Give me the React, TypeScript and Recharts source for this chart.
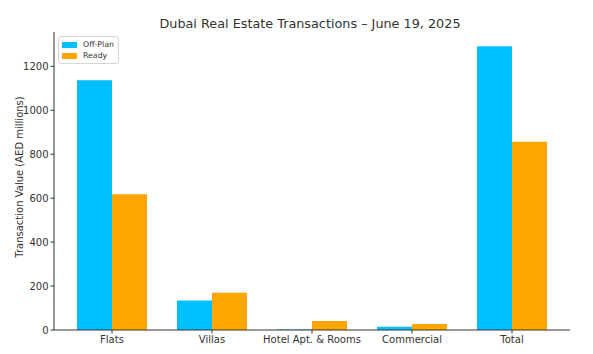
import React from 'react';
import { BarChart, Bar, XAxis, YAxis } from 'recharts';

const categories = ['Flats', 'Villas', 'Hotel Apt. & Rooms', 'Commercial', 'Total'];
const offPlan = [1136, 134, 2, 15, 1291];
const ready = [618, 170, 41, 27, 857];
const yTicks = [0, 200, 400, 600, 800, 1000, 1200];

const data = categories.map((c, i) => ({ name: c, offPlan: offPlan[i], ready: ready[i] }));

const FONT = 'DejaVu Sans, sans-serif';
const BLUE = '#00BFFF';
const ORANGE = '#FFA500';

const LegendBox = () => (
  <div
    style={{
      position: 'absolute',
      left: 58,
      top: 36,
      border: '1px solid #d6d6d6',
      borderRadius: 3,
      background: 'white',
      padding: '2px 4px 2px 3px',
      fontFamily: FONT,
      fontSize: 7.8,
      color: '#333',
      lineHeight: '11px',
    }}
  >
    {[
      ['Off-Plan', BLUE],
      ['Ready', ORANGE],
    ].map(([label, color]) => (
      <div key={label} style={{ display: 'flex', alignItems: 'center' }}>
        <span style={{ display: 'inline-block', width: 15, height: 6, background: color, marginRight: 6 }} />
        {label}
      </div>
    ))}
  </div>
);

export default function App() {
  return (
    <div style={{ position: 'absolute', left: 0, top: 0, width: 593, height: 354, background: 'white' }}>
      <BarChart
        width={593}
        height={354}
        data={data}
        margin={{ top: 32, right: 23, left: 0, bottom: 0 }}
        barGap={0}
        barSize={35}
      >
        <XAxis
          dataKey="name"
          height={24}
          padding={{ left: 8, right: 8 }}
          tick={{ fontFamily: FONT, fontSize: 10, fill: '#333' }}
          tickSize={3.5}
          tickMargin={2}
          axisLine={{ stroke: '#333', strokeWidth: 1 }}
          tickLine={{ stroke: '#333' }}
          interval={0}
        />
        <YAxis
          width={54}
          domain={[0, 1356]}
          ticks={yTicks}
          tick={{ fontFamily: FONT, fontSize: 10, fill: '#333' }}
          tickSize={3.5}
          tickMargin={2}
          axisLine={{ stroke: '#333', strokeWidth: 1 }}
          tickLine={{ stroke: '#333' }}
          label={{
            value: 'Transaction Value (AED millions)',
            angle: -90,
            position: 'insideLeft',
            offset: 19,
            dy: -4,
            style: { textAnchor: 'middle', fontFamily: FONT, fontSize: 10, fill: '#333' },
          }}
        />
        <Bar dataKey="offPlan" name="Off-Plan" fill={BLUE} isAnimationActive={false} />
        <Bar dataKey="ready" name="Ready" fill={ORANGE} isAnimationActive={false} />
      </BarChart>
      <div
        style={{
          position: 'absolute',
          left: 0,
          top: 16,
          width: 620,
          textAlign: 'center',
          fontFamily: FONT,
          fontSize: 12.8,
          color: '#333',
        }}
      >
        Dubai Real Estate Transactions – June 19, 2025
      </div>
      <LegendBox />
    </div>
  );
}
